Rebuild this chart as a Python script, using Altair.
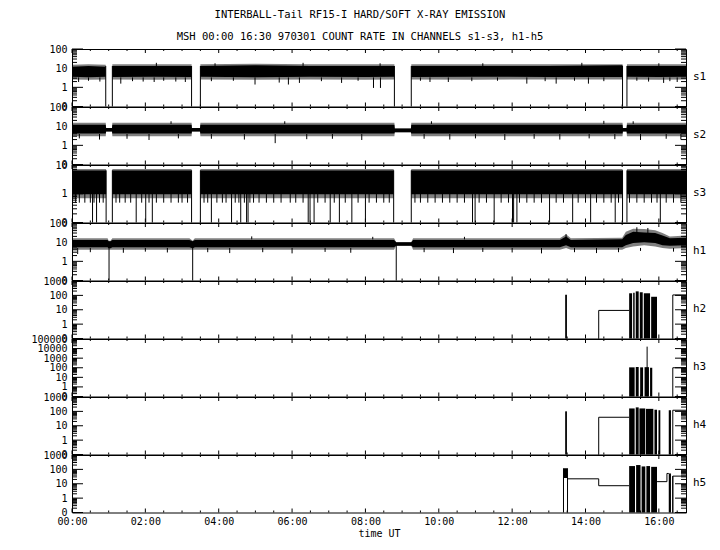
import altair as alt
import pandas as pd

T_END = 16.74
W = 614
H = 57.5
FONT = "DejaVu Sans Mono"

PANELS = ["s1", "s2", "s3", "h1", "h2", "h3", "h4", "h5"]
Y_TOP = [100, 100, 10, 100, 1000, 100000, 1000, 1000]
HOUR_TICKS = [0, 2, 4, 6, 8, 10, 12, 14, 16]
TITLE_1 = "INTERBALL-Tail RF15-I HARD/SOFT X-RAY EMISSION"
TITLE_2 = "MSH 00:00 16:30 970301  COUNT RATE IN CHANNELS s1-s3, h1-h5"
X_TITLE = "time UT"

# ---------- s1 ----------
S1_T = [0.00, 0.45, 0.92, 1.10, 2.20, 3.26, 3.50, 5.00, 6.50, 8.00, 8.79, 9.25, 11.0, 13.0, 15.01, 15.13, 16.0, 16.74]
S1_LO = [3.6, 3.4, 3.6, 3.5, 3.6, 3.5, 3.6, 3.4, 3.6, 3.5, 3.6, 3.5, 3.6, 3.5, 3.5, 3.6, 3.5, 3.6]
S1_HI = [12, 13, 12, 13, 13, 13, 13, 14, 13, 13, 13, 13, 13, 13, 14, 13, 13, 13]
S1_FR_LO = [2.6, 2.5, 2.6, 2.6, 2.5, 2.6, 2.6, 2.5, 2.6, 2.5, 2.6, 2.6, 2.5, 2.6, 2.6, 2.6, 2.5, 2.6]
S1_FR_HI = [15, 16, 15, 16, 16, 16, 16, 17, 16, 16, 16, 16, 16, 16, 16, 16, 16, 16]
S1_SEG = [0, 0, 0, 1, 1, 1, 2, 2, 2, 2, 2, 3, 3, 3, 3, 4, 4, 4]
S1_EDGE_T = [0.92, 1.10, 3.26, 3.50, 8.79, 9.25, 15.01, 15.13]
S1_DOWN_T = [0.18, 0.45, 0.76, 1.33, 1.65, 1.94, 2.24, 2.5, 2.83, 3.09, 3.8, 4.4, 4.99, 5.65, 5.9, 6.2, 6.8, 7.35, 7.8,
             8.22, 8.41, 9.5, 9.76, 10.26, 10.9, 11.6, 12.4, 12.9, 13.2, 13.7, 14.08, 14.5, 15.4, 15.72, 16.13, 16.3, 16.5]
S1_DOWN_V = [1.9, 2.2, 2.0, 1.56, 2.1, 2.0, 1.9, 2.2, 2.0, 1.9, 2.1, 2.2, 1.4, 1.77, 1.4, 1.7, 2.1, 1.7, 2.2,
             0.93, 0.93, 2.2, 1.9, 1.9, 2.1, 2.2, 1.56, 2.1, 1.56, 2.2, 1.56, 2.1, 2.2, 2.0, 1.7, 2.1, 1.9]
S1_UP_T = [2.3, 3.9, 6.3, 8.4, 11.2, 13.9, 16.0]
S1_UP_V = [19, 18, 19, 18, 18, 19, 18]

# ---------- s2 ----------
S2_T = [0.0, 0.92, 0.93, 1.09, 1.10, 3.26, 3.27, 3.49, 3.50, 8.79, 8.80, 9.24, 9.25, 15.01, 15.02, 15.12, 15.13, 16.74]
S2_LO = [4.2, 4.2, 5.3, 5.3, 4.2, 4.2, 5.3, 5.3, 4.2, 4.2, 4.8, 4.8, 4.2, 4.2, 5.3, 5.3, 4.2, 4.2]
S2_HI = [12, 12, 8, 8, 12, 12, 8, 8, 12, 12, 7.5, 7.5, 12, 12, 8, 8, 12, 12]
S2_FR_LO = [3.0, 3.0, 5.3, 5.3, 3.0, 3.0, 5.3, 5.3, 3.0, 3.0, 4.8, 4.8, 3.0, 3.0, 5.3, 5.3, 3.0, 3.0]
S2_FR_HI = [15, 15, 8, 8, 15, 15, 8, 8, 15, 15, 7.5, 7.5, 15, 15, 8, 8, 15, 15]
S2_DOWN_T = [0.2, 0.75, 1.5, 2.1, 2.9, 3.8, 4.7, 5.54, 6.4, 7.1, 7.9, 9.6, 10.3, 11.0, 11.8, 12.6, 13.3, 14.1, 14.8,
             15.5, 16.2, 16.6]
S2_DOWN_V = [2.3, 2.0, 2.2, 1.9, 2.3, 2.2, 2.0, 1.3, 2.1, 2.2, 1.9, 2.2, 2.0, 2.3, 1.9, 2.2, 2.0, 2.3, 2.1,
             1.9, 2.2, 2.0]
S2_UP_T = [2.7, 5.8, 9.8, 14.5, 15.3]
S2_UP_V = [18, 18, 18, 19, 18]

# ---------- s3 ----------
S3_T = [0.00, 0.93, 1.10, 3.26, 3.50, 8.77, 9.25, 15.01, 15.13, 16.74]
S3_LO = [0.96, 0.96, 0.96, 0.96, 0.96, 0.96, 0.96, 0.96, 0.96, 0.96]
S3_HI = [6.5, 6.5, 6.5, 6.5, 6.5, 6.5, 6.5, 6.5, 6.5, 6.5]
S3_FR_LO = [0.7, 0.7, 0.7, 0.7, 0.7, 0.7, 0.7, 0.7, 0.7, 0.7]
S3_FR_HI = [7.2, 7.2, 7.2, 7.2, 7.2, 7.2, 7.2, 7.2, 7.2, 7.2]
S3_SEG = [0, 0, 1, 1, 2, 2, 3, 3, 4, 4]
S3_EDGE_T = [0.93, 1.10, 3.26, 3.50, 8.77, 9.25, 15.01, 15.13]
S3_ZERO_T = [0.56, 0.67, 1.75, 2.01, 2.19, 3.8, 4.35, 4.60, 4.76, 4.80, 6.44, 6.49, 6.60, 7.04, 7.29, 7.63, 8.00,
             10.92, 10.99, 11.51, 12.01, 12.04, 12.13, 13.02, 13.65, 14.14, 14.81, 16.04]
S3_HALF_T = [0.1, 0.2, 0.35, 0.5, 0.6, 0.75, 0.85, 1.2, 1.3, 1.45, 1.6, 1.9, 2.1, 2.3, 2.5, 2.7, 2.9, 3.0, 3.15,
             3.6, 3.7, 3.95, 4.1, 4.2, 4.45, 4.55, 4.7, 4.85, 4.95, 5.1, 5.3, 5.5, 5.7, 5.95, 6.1, 6.3, 6.7, 6.9,
             7.15, 7.45, 7.8, 8.1, 8.3, 8.5, 8.65, 9.35, 9.5, 9.7, 9.9, 10.1, 10.3, 10.5, 10.7, 11.1, 11.3, 11.7,
             11.9, 12.2, 12.4, 12.6, 12.8, 13.2, 13.4, 13.8, 14.0, 14.3, 14.5, 14.7, 14.9, 15.2, 15.4, 15.6, 15.8,
             15.95, 16.2, 16.4, 16.6]
S3_HALF_V = 0.49

# ---------- h1 ----------
H1_T = [0.0, 0.97, 1.00, 1.05, 1.10, 3.20, 3.29, 3.35, 8.78, 8.84, 9.25, 9.30, 13.30, 13.47, 13.60, 15.00, 15.10,
        15.30, 15.60, 15.90, 16.10, 16.30, 16.74]
H1_LO = [5.5, 5.5, 4.8, 4.8, 5.5, 5.5, 4.8, 5.5, 5.5, 6.5, 6.5, 5.5, 5.5, 7, 5.5, 5.5, 7, 9, 10, 9, 7, 6.5, 7]
H1_HI = [13, 13, 11, 11, 13, 13, 11, 13, 13, 10, 10, 13, 13, 20, 13, 14, 24, 35, 32, 30, 22, 16, 17]
H1_FR_LO = [4.0, 4.0, 4.0, 4.0, 4.0, 4.0, 4.0, 4.0, 4.0, 6.5, 6.5, 4.0, 4.0, 5, 4.0, 4.0, 5, 6, 7, 6, 5, 4.5, 5]
H1_FR_HI = [16, 16, 12, 12, 16, 16, 12, 16, 16, 10, 10, 16, 16, 26, 16, 17, 35, 50, 48, 42, 30, 20, 22]
H1_DROP_T = [1.01, 3.29, 8.84]
H1_DOWN_T = [0.155, 0.5, 1.4, 2.0, 2.6, 3.7, 4.3, 5.2, 6.0, 6.9, 7.6, 9.6, 10.4, 11.2, 12.0, 12.8, 13.7, 14.3, 14.9,
             15.5, 16.4]
H1_DOWN_V = [2.4, 3.0, 2.8, 3.2, 2.9, 3.0, 2.7, 3.0, 2.6, 3.1, 2.8, 3.0, 2.7, 3.1, 2.9, 2.6, 3.0, 2.7, 3.0, 3.5, 3.2]
H1_UP_T = [4.9, 8.2, 10.7, 13.47, 15.4, 15.7]
H1_UP_V = [20, 19, 19, 26, 60, 55]

# ---------- h2 ----------
H2_SPIKE_T = [13.46, 13.48]
H2_SPIKE_V = [110, 110]
H2_STEP_T = [14.35, 14.36, 15.19, 16.37, 16.38, 16.74]
H2_STEP_V = [0.1, 9, 9, 0.1, 107, 107]
H2_STEP_SEG = [0, 0, 0, 1, 1, 1]
H2_BAR_T0 = [15.19, 15.30, 15.37, 15.48, 15.59, 15.79]
H2_BAR_T1 = [15.27, 15.34, 15.45, 15.56, 15.76, 15.95]
H2_BAR_TOP = [140, 150, 190, 165, 140, 80]

# ---------- h3 ----------
H3_SPIKE_T = [15.68]
H3_SPIKE_V = [16000]
H3_STEP_T = [16.37, 16.38, 16.74]
H3_STEP_V = [0.1, 100, 100]
H3_STEP_SEG = [0, 0, 0]
H3_BAR_T0 = [15.19, 15.37, 15.49, 15.61, 15.76]
H3_BAR_T1 = [15.34, 15.45, 15.57, 15.73, 15.82]
H3_BAR_TOP = [110, 120, 110, 115, 100]

# ---------- h4 ----------
H4_SPIKE_T = [13.46, 13.48]
H4_SPIKE_V = [100, 100]
H4_STEP_T = [14.35, 14.36, 15.19, 16.37, 16.38, 16.74]
H4_STEP_V = [0.1, 39, 39, 0.1, 120, 120]
H4_STEP_SEG = [0, 0, 0, 1, 1, 1]
H4_BAR_T0 = [15.19, 15.37, 15.47, 15.65, 15.88, 15.99, 16.27]
H4_BAR_T1 = [15.34, 15.45, 15.63, 15.85, 15.95, 16.04, 16.33]
H4_BAR_TOP = [160, 190, 160, 150, 130, 120, 120]

# ---------- h5 ----------
H5_SPIKE_T = [13.40, 13.51]
H5_SPIKE_V = [120, 120]
H5_STEP_T = [13.51, 14.36, 15.19, 15.95, 16.22, 16.27, 16.37, 16.38, 16.74]
H5_STEP_V = [22, 7.3, 7.3, 14, 52, 52, 0.1, 34, 34]
H5_STEP_SEG = [0, 0, 0, 1, 1, 1, 2, 2, 2]
H5_BAR_T0 = [13.41, 15.19, 15.38, 15.53, 15.66, 15.79, 16.27]
H5_BAR_T1 = [13.50, 15.35, 15.50, 15.63, 15.76, 15.95, 16.33]
H5_BAR_TOP = [120, 170, 200, 160, 170, 150, 52]
H5_BAR_BOT = [25, 0.1, 0.1, 0.1, 0.1, 0.1, 0.1]


# ---------------- helpers ----------------
def seg_rules(ts, y_from, y_to):
    n = len(ts)
    yf = y_from if isinstance(y_from, list) else [y_from] * n
    yt = y_to if isinstance(y_to, list) else [y_to] * n
    return pd.DataFrame({"t": ts, "a": yf, "b": yt})


PANEL_DATA = {
    "s1": dict(band=(S1_T, S1_LO, S1_HI, S1_SEG), fringe=(S1_T, S1_FR_LO, S1_FR_HI, S1_SEG),
               rules=[seg_rules(S1_EDGE_T, 13, 0.1), seg_rules(S1_DOWN_T, S1_DOWN_V, 3.3),
                      seg_rules(S1_UP_T, S1_UP_V, 13)]),
    "s2": dict(band=(S2_T, S2_LO, S2_HI, [0] * len(S2_T)), fringe=(S2_T, S2_FR_LO, S2_FR_HI, [0] * len(S2_T)),
               rules=[seg_rules(S2_DOWN_T, S2_DOWN_V, 3.9), seg_rules(S2_UP_T, S2_UP_V, 13)]),
    "s3": dict(band=(S3_T, S3_LO, S3_HI, S3_SEG), fringe=(S3_T, S3_FR_LO, S3_FR_HI, S3_SEG),
               rules=[seg_rules(S3_EDGE_T, 6.5, 0.1), seg_rules(S3_ZERO_T, 1.0, 0.1),
                      seg_rules(S3_HALF_T, 1.0, S3_HALF_V)]),
    "h1": dict(band=(H1_T, H1_LO, H1_HI, [0] * len(H1_T)), fringe=(H1_T, H1_FR_LO, H1_FR_HI, [0] * len(H1_T)),
               rules=[seg_rules(H1_DROP_T, 8, 0.1), seg_rules(H1_DOWN_T, H1_DOWN_V, 5),
                      seg_rules(H1_UP_T, H1_UP_V, 14)]),
    "h2": dict(rules=[seg_rules(H2_SPIKE_T, H2_SPIKE_V, 0.1)],
               steps=(H2_STEP_T, H2_STEP_V, H2_STEP_SEG),
               bars=(H2_BAR_T0, H2_BAR_T1, H2_BAR_TOP, [0.1] * len(H2_BAR_T0))),
    "h3": dict(rules=[seg_rules(H3_SPIKE_T, H3_SPIKE_V, 0.1)],
               steps=(H3_STEP_T, H3_STEP_V, H3_STEP_SEG),
               bars=(H3_BAR_T0, H3_BAR_T1, H3_BAR_TOP, [0.1] * len(H3_BAR_T0))),
    "h4": dict(rules=[seg_rules(H4_SPIKE_T, H4_SPIKE_V, 0.1)],
               steps=(H4_STEP_T, H4_STEP_V, H4_STEP_SEG),
               bars=(H4_BAR_T0, H4_BAR_T1, H4_BAR_TOP, [0.1] * len(H4_BAR_T0))),
    "h5": dict(rules=[seg_rules(H5_SPIKE_T, H5_SPIKE_V, 0.1), seg_rules([16.38], 34, 0.1)],
               steps=(H5_STEP_T, H5_STEP_V, H5_STEP_SEG),
               bars=(H5_BAR_T0, H5_BAR_T1, H5_BAR_TOP, H5_BAR_BOT)),
}

MAJOR_X = HOUR_TICKS
MINOR_X = [h / 2 for h in range(0, 34) if h % 4 != 0]


def decades(top):
    out, v = [], 0.1
    while v <= top * 1.0001:
        out.append(v)
        v *= 10
    return out


def minors(top):
    out = []
    for d in decades(top)[:-1]:
        for k in range(2, 10):
            out.append(d * k)
    return out


def make_panel(i, name):
    top = Y_TOP[i]
    last = i == len(PANELS) - 1
    xs = alt.Scale(domain=[0, T_END], nice=False, zero=False)
    ys = alt.Scale(type="log", domain=[0.1, top], nice=False, clamp=True)
    if last:
        xa = alt.Axis(values=HOUR_TICKS,
                      labelExpr="(datum.value < 10 ? '0' : '') + format(datum.value, 'd') + ':00'",
                      ticks=False, domain=False, grid=False, labelFont=FONT, labelFontSize=10,
                      labelColor="black", labelPadding=4, labelFlush=False, title=X_TITLE,
                      titleFont=FONT, titleFontSize=10, titleFontWeight="normal", titleColor="black",
                      titlePadding=2)
    else:
        xa = None
    ya = alt.Axis(values=decades(top), labelExpr="datum.value < 0.5 ? '0' : format(datum.value, 'd')",
                  ticks=False, domain=False, grid=False, labelFont=FONT, labelFontSize=10,
                  labelColor="black", labelPadding=5, labelFlush=False, labelOverlap=False,
                  title=None, minExtent=58, maxExtent=58)

    def X(f="t"):
        return alt.X(f + ":Q", scale=xs, axis=xa, title=None if not last else X_TITLE)

    def Y(f):
        return alt.Y(f + ":Q", scale=ys, axis=ya)

    layers = []
    d = PANEL_DATA[name]
    if "fringe" in d:
        t, lo, hi, seg = d["fringe"]
        df = pd.DataFrame({"t": t, "lo": lo, "hi": hi, "seg": seg})
        layers.append(alt.Chart(df).mark_area(color="black", opacity=0.5, interpolate="linear").encode(
            x=X(), y=Y("hi"), y2="lo:Q", detail="seg:N"))
    if "band" in d:
        t, lo, hi, seg = d["band"]
        df = pd.DataFrame({"t": t, "lo": lo, "hi": hi, "seg": seg})
        layers.append(alt.Chart(df).mark_area(color="black", opacity=1, interpolate="linear").encode(
            x=X(), y=Y("hi"), y2="lo:Q", detail="seg:N"))
    if "bars" in d:
        t0, t1, tp, bt = d["bars"]
        df = pd.DataFrame({"t": t0, "t1": t1, "top": tp, "bot": bt})
        layers.append(alt.Chart(df).mark_rect(color="black").encode(
            x=X(), x2="t1:Q", y=Y("top"), y2="bot:Q"))
    if "steps" in d:
        t, v, seg = d["steps"]
        df = pd.DataFrame({"t": t, "v": v, "seg": seg})
        layers.append(alt.Chart(df).mark_line(color="black", strokeWidth=1, interpolate="step-after").encode(
            x=X(), y=Y("v"), detail="seg:N"))
    if "rules" in d:
        df = pd.concat(d["rules"], ignore_index=True)
        layers.append(alt.Chart(df).mark_rule(color="black", strokeWidth=1).encode(
            x=X(), y=Y("a"), y2="b:Q"))

    # axis ticks drawn inward (gnuplot style)
    ymaj = pd.DataFrame({"v": decades(top)})
    ymin = pd.DataFrame({"v": minors(top)})
    for df, ln in ((ymaj, 11), (ymin, 5)):
        layers.append(alt.Chart(df).mark_rule(color="black", strokeWidth=1).encode(
            y=Y("v"), x=alt.value(0), x2=alt.value(ln)))
        layers.append(alt.Chart(df).mark_rule(color="black", strokeWidth=1).encode(
            y=Y("v"), x=alt.value(W), x2=alt.value(W - ln)))
    xmaj = pd.DataFrame({"t": MAJOR_X})
    xmin = pd.DataFrame({"t": MINOR_X})
    for df, ln in ((xmaj, 4), (xmin, 2)):
        layers.append(alt.Chart(df).mark_rule(color="black", strokeWidth=1).encode(
            x=X(), y=alt.value(H), y2=alt.value(H - ln)))
        layers.append(alt.Chart(df).mark_rule(color="black", strokeWidth=1).encode(
            x=X(), y=alt.value(0), y2=alt.value(ln)))

    lab = pd.DataFrame({"k": [name]})
    layers.append(alt.Chart(lab).mark_text(font=FONT, fontSize=11, align="left", baseline="middle",
                                           color="black").encode(
        text="k:N", x=alt.value(W + 7), y=alt.value(H / 2 - 1)))
    if i == 0:
        tt = pd.DataFrame({"k": [TITLE_1, TITLE_2], "yy": [-34, -12]})
        layers.append(alt.Chart(tt).mark_text(font=FONT, fontSize=10.5, align="center", baseline="middle",
                                              color="black").encode(
            text="k:N", x=alt.value(360 - 72), y=alt.Y("yy:Q", scale=None)))
    return alt.layer(*layers).properties(width=W, height=H)


chart = alt.vconcat(*[make_panel(i, n) for i, n in enumerate(PANELS)], spacing=0, bounds="flush").properties(
    padding={"left": 5, "top": 1, "right": 5, "bottom": 5}, background="white"
).configure_view(stroke="black", strokeWidth=1).configure_concat(spacing=0)

chart.save("out.html", embed_options={"renderer": "svg", "actions": False})
